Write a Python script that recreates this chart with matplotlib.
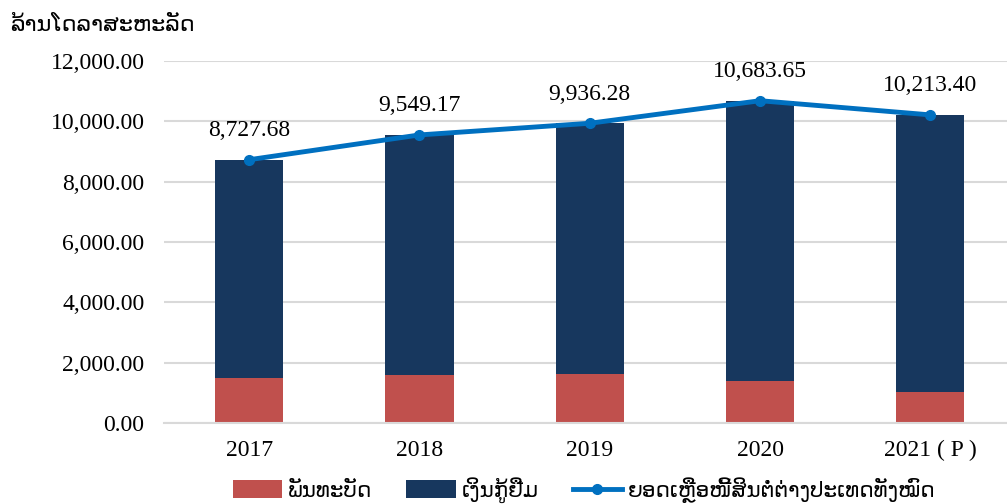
import matplotlib.pyplot as plt
from matplotlib.ticker import FuncFormatter

# Data (millions USD)
years = ["2017", "2018", "2019", "2020", "2021 ( P )"]
bonds = [1500, 1590, 1610, 1390, 1030]
loans = [7227.68, 7959.17, 8326.28, 9293.65, 9183.40]
total = [8727.68, 9549.17, 9936.28, 10683.65, 10213.40]

unit_label = "ລ້ານໂດລາສະຫະລັດ"
bond_label = "ພັນທະບັດ"
loan_label = "ເງິນກູ້ຢືມ"
total_label = "ຍອດເຫຼືອໜີ້ສິນຕໍ່ຕ່າງປະເທດທັງໝົດ"

serif = "Liberation Serif"
lao = ["DejaVu Sans"]

fig = plt.figure(figsize=(10.07, 5.04), dpi=100)
ax = fig.add_axes([164 / 1007, 1 - 423 / 504, 1 - 164 / 1007, (423 - 61) / 504])

x = range(len(years))
b1 = ax.bar(x, bonds, width=0.4, color="#C0504D", label=bond_label, zorder=2)
b2 = ax.bar(x, loans, width=0.4, bottom=bonds, color="#17375E", label=loan_label, zorder=2)
ln, = ax.plot(x, total, color="#0070C0", lw=3.5, marker="o", ms=7, label=total_label, zorder=3)

for i, v in enumerate(total):
    ax.annotate(f"{v:,.2f}", (i, v), xytext=(0, 21), textcoords="offset points",
                ha="center", va="center", fontsize=17, family=serif)

ax.set_xlim(-0.5, 4.45)
ax.set_ylim(0, 12000)
ax.set_yticks(range(0, 12001, 2000))
ax.yaxis.set_major_formatter(FuncFormatter(lambda v, p: f"{v:,.2f}"))
ax.set_xticks(list(x))
ax.set_xticklabels(years)
for lbl in ax.get_xticklabels() + ax.get_yticklabels():
    lbl.set_fontsize(17)
    lbl.set_family(serif)
ax.tick_params(length=0, pad=12)
ax.tick_params(axis="y", pad=14)

ax.grid(axis="y", color="#D9D9D9", lw=1.5, zorder=0)
for s in ["top", "right", "left"]:
    ax.spines[s].set_visible(False)
ax.spines["bottom"].set_color("#D9D9D9")
ax.spines["bottom"].set_linewidth(1.5)

fig.text(10 / 1007, 1 - 25 / 504, unit_label, fontsize=16, family=lao, va="center")

fig.legend([b1, b2, ln], [bond_label, loan_label, total_label],
           loc="center", bbox_to_anchor=(584 / 1007, 1 - 490 / 504), ncol=3, frameon=False,
           prop={"family": lao, "size": 15.5}, handlelength=2.3, handleheight=0.9,
           columnspacing=1.6, handletextpad=0.25)

plt.savefig("out.png")
